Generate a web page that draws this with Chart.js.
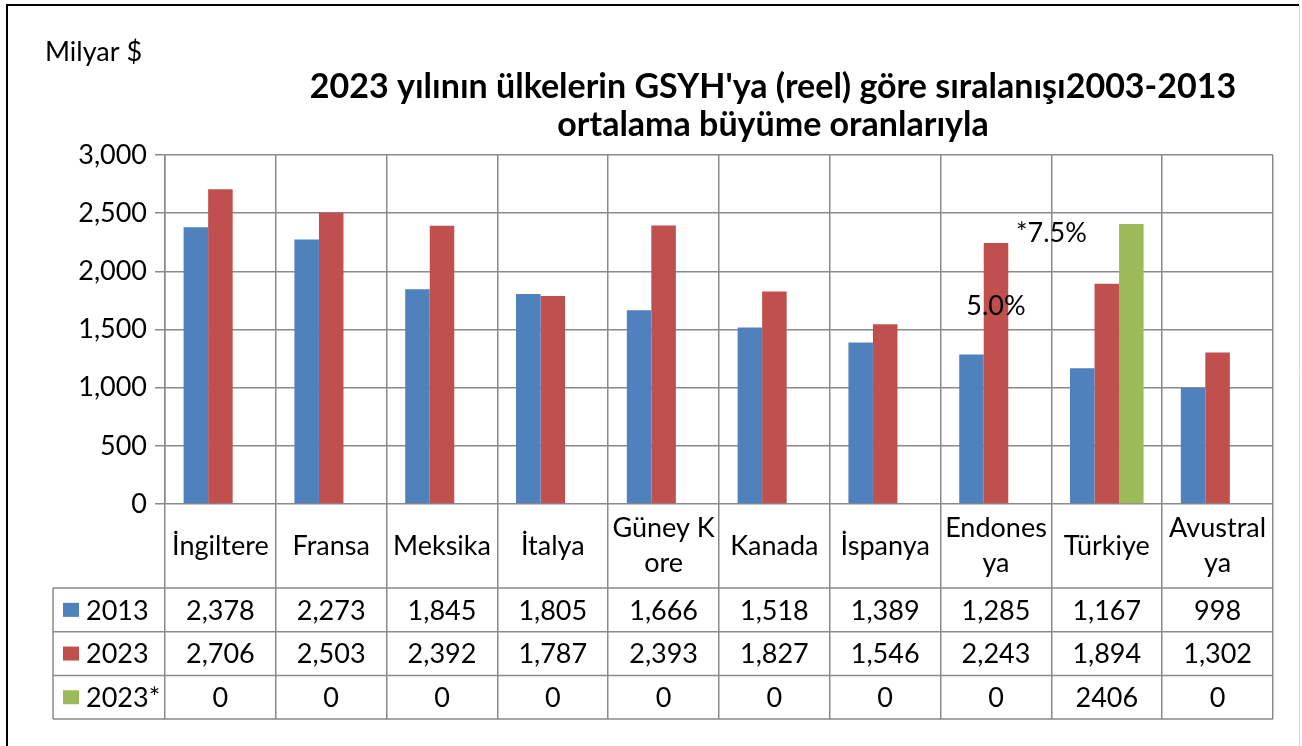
<!DOCTYPE html>
<html><head><meta charset="utf-8">
<script src="https://cdn.jsdelivr.net/npm/chart.js@4"></script>
<style>html,body{margin:0;padding:0;background:#fff}</style>
</head><body>
<canvas id="c" width="1302" height="746" style="display:block;width:1302px;height:746px"></canvas>
<script>
// ---- data ----
const categories = [['İngiltere'], ['Fransa'], ['Meksika'], ['İtalya'], ['Güney K', 'ore'], ['Kanada'], ['İspanya'], ['Endones', 'ya'], ['Türkiye'], ['Avustral', 'ya']];
const seriesNames = ['2013', '2023', '2023*'];
const values2013 = [2378, 2273, 1845, 1805, 1666, 1518, 1389, 1285, 1167, 998];
const values2023 = [2706, 2503, 2392, 1787, 2393, 1827, 1546, 2243, 1894, 1302];
const values2023s = [0, 0, 0, 0, 0, 0, 0, 0, 2406, 0];
const yTicks = [0, 500, 1000, 1500, 2000, 2500, 3000];
const titleLines = ["2023 yılının ülkelerin GSYH'ya (reel) göre sıralanışı2003-2013", "ortalama büyüme oranlarıyla"];
const unitLabel = 'Milyar $';
const noteTexts = ['5.0%', '*7.5%'];
const noteCategory = [7, 7.5];
const noteValue = [1700, 2330];

// ---- style ----
const FONT = 'Lato, "Open Sans", sans-serif';
const GRID = '#8a8a8a';
const colors = ['#4F81BD', '#C0504D', '#9BBB59'];
const seriesValues = [values2013, values2023, values2023s];
const fmt = [v => v.toLocaleString('en-US'), v => v.toLocaleString('en-US'), v => String(v)];

Chart.defaults.font.family = FONT;
Chart.defaults.color = '#000';

const tablePlugin = {
  id: 'tablePlugin',
  afterDraw(chart) {
    const ctx = chart.ctx;
    const xs = chart.scales.x, ys = chart.scales.y;
    const ca = chart.chartArea;
    ctx.save();
    // outer frame
    ctx.strokeStyle = '#000'; ctx.lineWidth = 2;
    ctx.beginPath(); ctx.moveTo(7, 746); ctx.lineTo(7, 5); ctx.lineTo(1299, 5); ctx.stroke();
    ctx.strokeStyle = '#d9d9d9'; ctx.lineWidth = 1;
    ctx.beginPath(); ctx.moveTo(1299.5, 5); ctx.lineTo(1299.5, 746); ctx.stroke();

    // unit label
    ctx.fillStyle = '#000';
    ctx.font = '27px ' + FONT;
    ctx.textAlign = 'left'; ctx.textBaseline = 'alphabetic';
    ctx.fillText(unitLabel, 45, 61);

    // title
    ctx.font = 'bold 34px ' + FONT;
    ctx.textAlign = 'center';
    ctx.fillText(titleLines[0], 773, 98);
    ctx.fillText(titleLines[1], 773, 136);

    // table
    const top = ca.bottom, headerH = 84, rowH = 43.7, tLeft = 53;
    ctx.strokeStyle = GRID; ctx.lineWidth = 1.5;
    ctx.beginPath();
    for (let r = 0; r <= seriesNames.length; r++) {
      const y = top + headerH + r * rowH;
      ctx.moveTo(tLeft, y); ctx.lineTo(ca.right, y);
    }
    ctx.moveTo(tLeft, top + headerH); ctx.lineTo(tLeft, top + headerH + seriesNames.length * rowH);
    ctx.stroke();

    ctx.font = '27px ' + FONT;
    ctx.textAlign = 'center'; ctx.textBaseline = 'middle';
    categories.forEach((lab, i) => {
      const x = xs.getPixelForValue(i);
      const lh = 35;
      const cy = top + headerH / 2;
      lab.forEach((line, k) => {
        ctx.fillText(line, x, cy + (k - (lab.length - 1) / 2) * lh);
      });
    });
    seriesNames.forEach((name, r) => {
      const cy = top + headerH + (r + 0.5) * rowH;
      ctx.fillStyle = colors[r];
      ctx.fillRect(63, cy - 7, 16, 14);
      ctx.fillStyle = '#000';
      ctx.textAlign = 'left';
      ctx.fillText(name, 86, cy + 1);
      ctx.textAlign = 'center';
      seriesValues[r].forEach((v, i) => {
        ctx.fillText(fmt[r](v), xs.getPixelForValue(i), cy + 1);
      });
    });

    // notes
    ctx.font = '27px ' + FONT;
    noteTexts.forEach((t, k) => {
      ctx.fillText(t, xs.getPixelForValue(noteCategory[k]), ys.getPixelForValue(noteValue[k]));
    });
    ctx.restore();
  }
};

new Chart(document.getElementById('c'), {
  type: 'bar',
  data: {
    labels: categories,
    datasets: seriesNames.map((n, i) => ({
      label: n,
      data: seriesValues[i],
      backgroundColor: colors[i],
      borderWidth: 0,
      categoryPercentage: 0.664,
      barPercentage: 1
    }))
  },
  options: {
    responsive: false,
    animation: false,
    layout: { padding: { left: 0, top: 155, right: 29, bottom: 27 } },
    plugins: { legend: { display: false }, tooltip: { enabled: false }, title: { display: false } },
    scales: {
      x: {
        offset: true,
        grid: { offset: true, color: GRID, lineWidth: 1.5, drawTicks: true, tickLength: 215, tickColor: GRID },
        border: { display: false },
        ticks: { display: false },
        afterFit(s) { s.height = 215; }
      },
      y: {
        min: 0, max: 3000,
        afterBuildTicks(s) { s.ticks = yTicks.map(v => ({ value: v })); },
        ticks: { font: { size: 27 }, color: '#000', padding: 8, callback: v => v.toLocaleString('en-US') },
        grid: { color: GRID, lineWidth: 1.5, tickLength: 10, tickColor: GRID },
        border: { color: GRID, width: 1.5 },
        afterFit(s) { s.width = 165; }
      }
    }
  },
  plugins: [tablePlugin]
});
</script>
</body></html>
